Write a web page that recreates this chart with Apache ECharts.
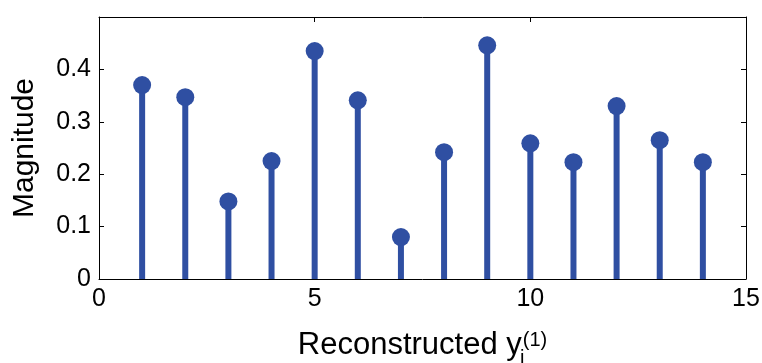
<!DOCTYPE html>
<html>
<head>
<meta charset="utf-8">
<script src="https://cdn.jsdelivr.net/npm/echarts@6/dist/echarts.min.js"></script>
<style>
html,body{margin:0;padding:0;background:#fff;}
#container{width:762px;height:363px;}
</style>
</head>
<body>
<div id="container"></div>
<script>
// stem positions and magnitudes
var idx = [1, 2, 3, 4, 5, 6, 7, 8, 9, 10, 11, 12, 13, 14];
var mag = [0.370, 0.347, 0.148, 0.225, 0.435, 0.341, 0.080, 0.242, 0.446, 0.259, 0.223, 0.330, 0.265, 0.223];
var xTicks = [0, 5, 10, 15];
var yTicks = [0, 0.1, 0.2, 0.3, 0.4];

var stemColor = '#2f4fa2';
var font = 'Liberation Sans, Arial, sans-serif';

var pts = [];
for (var i = 0; i < idx.length; i++) {
	pts.push([idx[i], mag[i]]);
}

// shared look of the box axes
function frameAxis(pos, extra) {
	var a = {
		type: 'value',
		position: pos,
		splitLine: {show: false},
		axisLine: {show: true, onZero: false, lineStyle: {color: '#000', width: 1}},
		axisTick: {show: true, inside: true, length: 5, lineStyle: {color: '#000'}},
		axisLabel: {show: false}
	};
	for (var k in extra) a[k] = extra[k];
	return a;
}

var myChart = echarts.init(document.getElementById('container'));
var option = {
	animation: false,
	grid: {left: 99, right: 16, top: 17, bottom: 84, containLabel: false, outerBoundsMode: 'none'},
	xAxis: [
		frameAxis('bottom', {
			min: xTicks[0],
			max: xTicks[xTicks.length - 1],
			interval: 5,
			axisLabel: {color: '#000', fontSize: 25, fontFamily: font, margin: 8},
			name: '{main|Reconstructed y}{sub|i}{sup|(1)}',
			nameLocation: 'middle',
			nameGap: 51,
			nameTextStyle: {
				color: '#000',
				fontFamily: font,
				verticalAlign: 'top',
				rich: {
					main: {fontSize: 31, fontFamily: font, color: '#000', lineHeight: 31, verticalAlign: 'top'},
					sub: {fontSize: 20, fontFamily: font, color: '#000', lineHeight: 20, width: 1, verticalAlign: 'top', padding: [18, 0, 0, 0]},
					sup: {fontSize: 20, fontFamily: font, color: '#000', lineHeight: 13, verticalAlign: 'top'}
				}
			}
		}),
		frameAxis('top', {min: xTicks[0], max: xTicks[xTicks.length - 1], interval: 5})
	],
	yAxis: [
		frameAxis('left', {
			min: 0,
			max: 0.5,
			interval: 0.1,
			axisLabel: {
				show: true, color: '#000', fontSize: 25, fontFamily: font, margin: 8,
				formatter: function (v) {
					for (var k = 0; k < yTicks.length; k++) {
						if (Math.abs(yTicks[k] - v) < 1e-9) return String(yTicks[k]);
					}
					return '';
				}
			},
			name: 'Magnitude',
			nameLocation: 'middle',
			nameGap: 59,
			nameTextStyle: {color: '#000', fontSize: 30, fontFamily: font}
		}),
		frameAxis('right', {min: 0, max: 0.5, interval: 0.1})
	],
	series: [
		{
			type: 'bar',
			data: pts,
			barWidth: 6,
			itemStyle: {color: stemColor},
			silent: true
		},
		{
			type: 'scatter',
			data: pts,
			symbol: 'circle',
			symbolSize: 18,
			itemStyle: {color: stemColor, opacity: 1},
			silent: true
		}
	]
};
myChart.setOption(option);
</script>
</body>
</html>
